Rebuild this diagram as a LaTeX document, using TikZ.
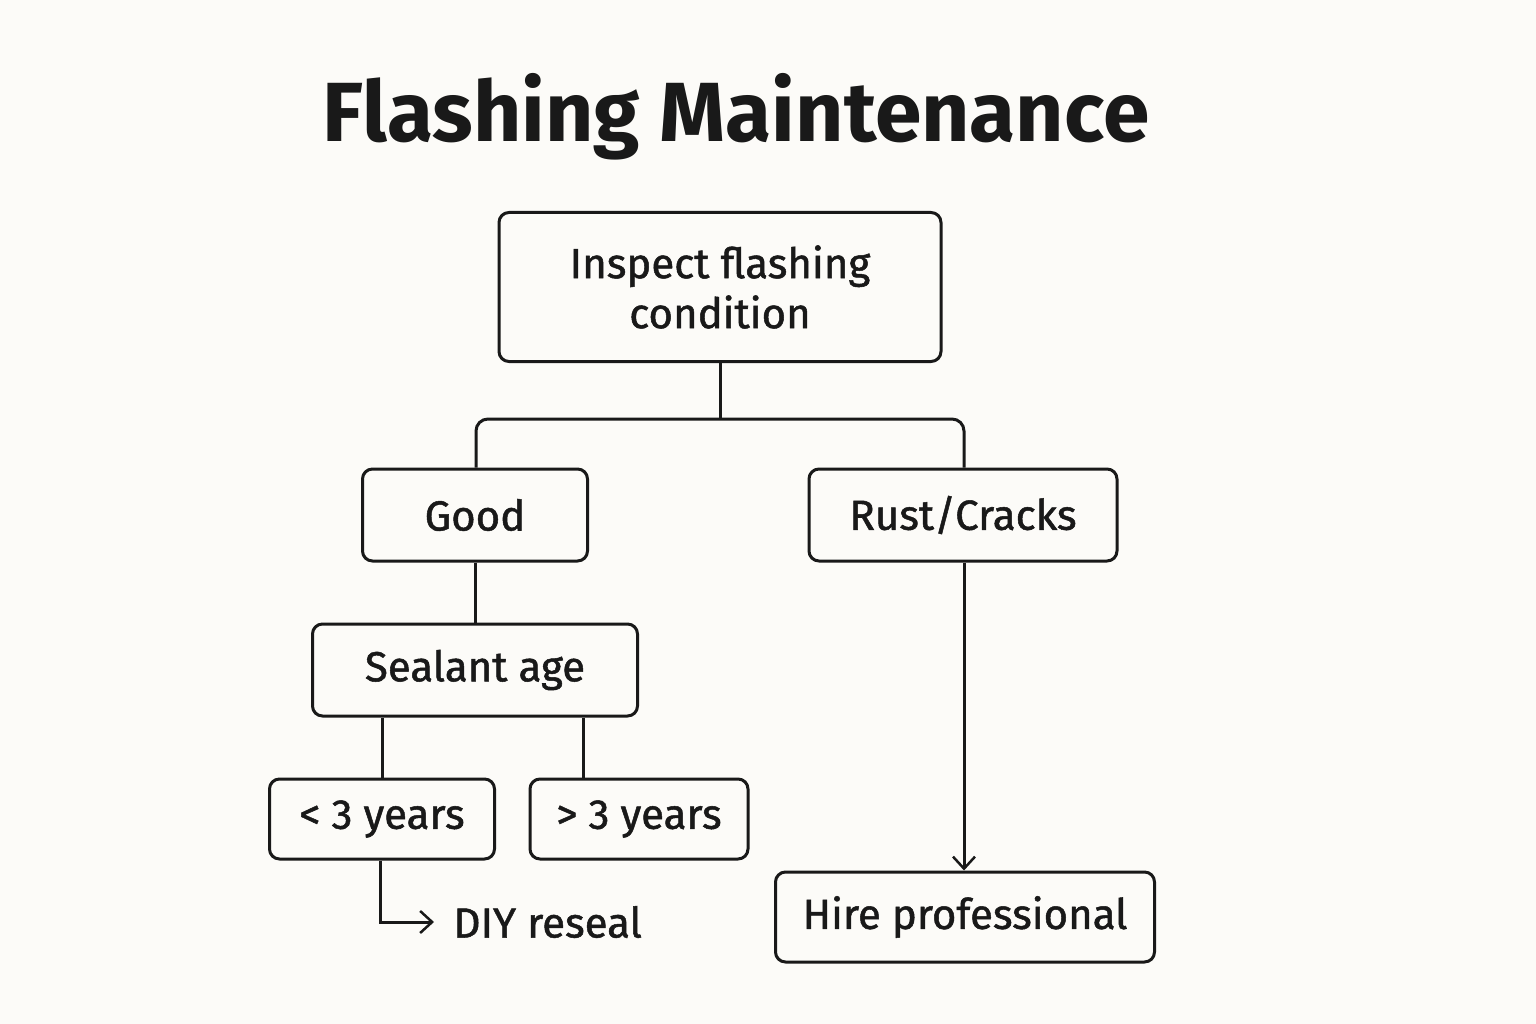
\documentclass[tikz,border=0pt]{standalone}
\usepackage{fontspec}
\setmainfont{Fira Sans}
\usetikzlibrary{arrows.meta}
\definecolor{bg}{HTML}{FCFBF8}
\begin{document}
\begin{tikzpicture}[x=1pt,y=-1pt,
  bx/.style={draw=black!90,line width=3pt,rounded corners=10pt,inner sep=0pt,font=\fontsize{42}{50}\selectfont\addfontfeature{FakeBold=1.2},text=black!90,align=center},
  ln/.style={draw=black!90,line width=3pt},
  tip/.style={-{Straight Barb[length=12pt,width=22pt,line width=2.5pt]}}]
\fill[bg] (0,0) rectangle (1536,1024);
\useasboundingbox (0,0) rectangle (1536,1024);
\node[font=\fontsize{84}{90}\selectfont\bfseries,text=black!90] (title) at (736,117) {Flashing Maintenance};
\node[bx,minimum width=442pt,minimum height=149pt] (insp) at (720,287) {Inspect flashing\\condition};
\node[bx,minimum width=225pt,minimum height=92pt] (good) at (475,515) {Good};
\node[bx,minimum width=308pt,minimum height=92pt] (rust) at (963,515) {Rust/Cracks};
\node[bx,minimum width=325pt,minimum height=92pt] (seal) at (475,670) {Sealant age};
\node[bx,minimum width=225pt,minimum height=80pt] (lt) at (382,819) {< 3 years};
\node[bx,minimum width=218pt,minimum height=80pt] (gt) at (639,819) {> 3 years};
\node[bx,minimum width=379pt,minimum height=90pt] (hire) at (965,917) {Hire professional};
\node[font=\fontsize{42}{50}\selectfont\addfontfeature{FakeBold=1.2},text=black!90,anchor=west] (diy) at (450,922) {DIY reseal};
\coordinate (j) at (720,419);
\draw[ln] (insp.south) -- (j);
\draw[ln,rounded corners=12pt] (good.north -| 476,0) -- (476,419) -- (964,419) -- (rust.north -| 964,0);
\draw[ln] (good.south) -- (seal.north);
\draw[ln] (seal.south -| lt.north) -- (lt.north);
\draw[ln] (seal.south -| 583,0) -- (gt.north -| 583,0);
\draw[ln,tip] (rust.south -| 964,0) -- (hire.north -| 964,0);
\draw[ln,tip,shorten >=16pt] (lt.south -| 380,0) -- (380,922) -- (diy.west);
\end{tikzpicture}
\end{document}
